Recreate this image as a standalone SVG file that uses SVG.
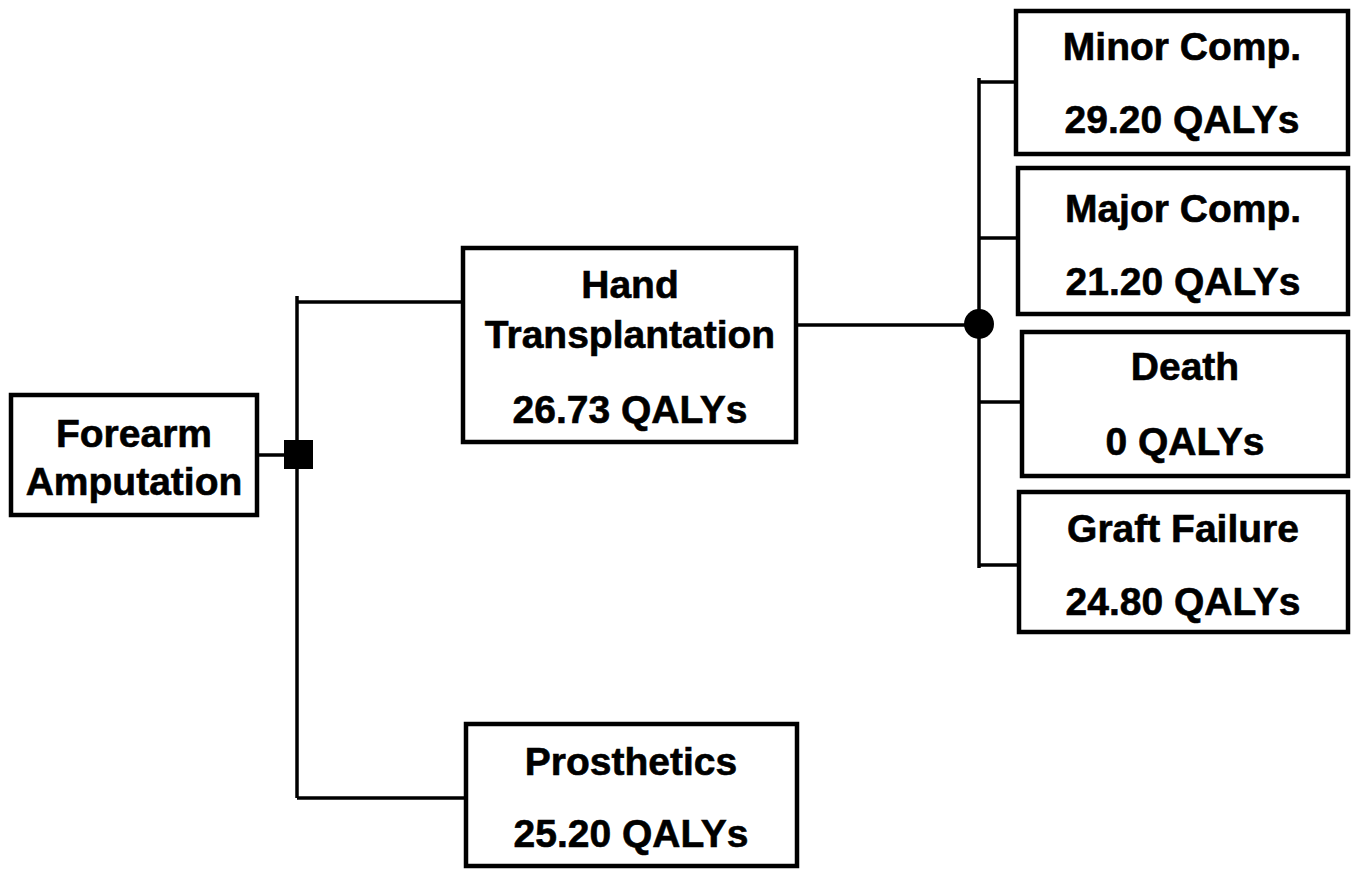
<svg xmlns="http://www.w3.org/2000/svg" width="1356" height="869" viewBox="0 0 1356 869">
<style>
.box{fill:#fff;stroke:#000;stroke-width:4.5}
.t{font-family:"Liberation Sans",Arial,sans-serif;font-weight:bold;font-size:39px;fill:#000;stroke:#000;stroke-width:0.6;text-anchor:middle}
.c{fill:none;stroke:#000;stroke-width:3.5}
</style>
<rect width="1356" height="869" fill="#fff"/>
<g id="connectors">
<path class="c" d="M257 455 H297"/>
<path class="c" d="M297 296 V798"/>
<path class="c" d="M297 302 H463"/>
<path class="c" d="M297 798 H466"/>
<path class="c" d="M796 325 H979"/>
<path class="c" d="M979 78 V568"/>
<path class="c" d="M979 82 H1016"/>
<path class="c" d="M979 238 H1018"/>
<path class="c" d="M979 402 H1022"/>
<path class="c" d="M979 565 H1019"/>
<rect x="284" y="440" width="29" height="29" fill="#000"/>
<circle cx="979" cy="324" r="15" fill="#000"/>
</g>
<g id="forearm">
<rect class="box" x="11" y="395" width="246" height="120"/>
<text class="t" x="134" y="447">Forearm</text>
<text class="t" x="134" y="495">Amputation</text>
</g>
<g id="hand">
<rect class="box" x="463" y="248" width="333" height="194"/>
<text class="t" x="630" y="298">Hand</text>
<text class="t" x="630" y="348">Transplantation</text>
<text class="t" x="630" y="423">26.73 QALYs</text>
</g>
<g id="prosthetics">
<rect class="box" x="466" y="724" width="331" height="142"/>
<text class="t" x="631" y="775">Prosthetics</text>
<text class="t" x="631" y="847">25.20 QALYs</text>
</g>
<g id="minor">
<rect class="box" x="1016" y="11" width="332" height="143"/>
<text class="t" x="1182" y="60">Minor Comp.</text>
<text class="t" x="1182" y="133">29.20 QALYs</text>
</g>
<g id="major">
<rect class="box" x="1018" y="168" width="330" height="146"/>
<text class="t" x="1183" y="222">Major Comp.</text>
<text class="t" x="1183" y="295">21.20 QALYs</text>
</g>
<g id="death">
<rect class="box" x="1022" y="332" width="326" height="144"/>
<text class="t" x="1185" y="380">Death</text>
<text class="t" x="1185" y="455">0 QALYs</text>
</g>
<g id="graft">
<rect class="box" x="1019" y="492" width="329" height="140"/>
<text class="t" x="1183" y="542">Graft Failure</text>
<text class="t" x="1183" y="615">24.80 QALYs</text>
</g>
</svg>
